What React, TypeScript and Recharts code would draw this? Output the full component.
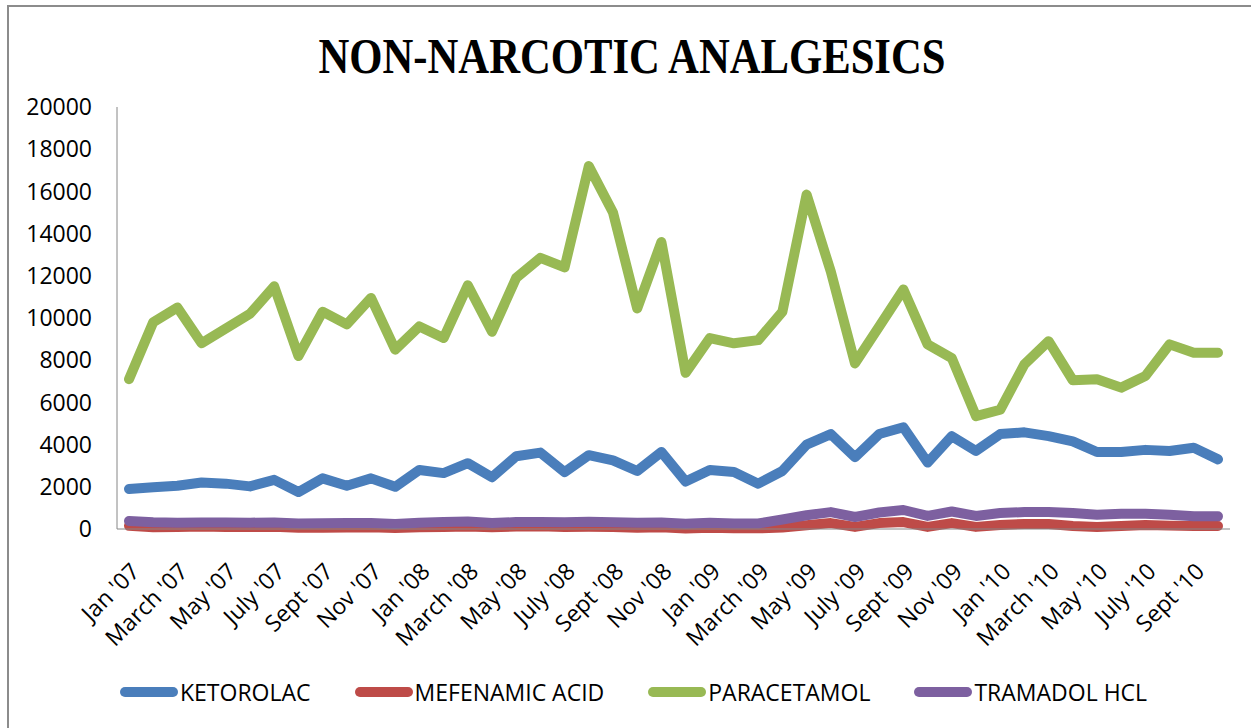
import React from "react";
import { LineChart, Line, XAxis, YAxis } from "recharts";

const months = [
  "Jan '07", "Feb '07", "March '07", "April '07", "May '07", "June '07", "July '07", "Aug '07", "Sept '07", "Oct '07", "Nov '07", "Dec '07",
  "Jan '08", "Feb '08", "March '08", "April '08", "May '08", "June '08", "July '08", "Aug '08", "Sept '08", "Oct '08", "Nov '08", "Dec '08",
  "Jan '09", "Feb '09", "March '09", "April '09", "May '09", "June '09", "July '09", "Aug '09", "Sept '09", "Oct '09", "Nov '09", "Dec '09",
  "Jan '10", "Feb '10", "March '10", "April '10", "May '10", "June '10", "July '10", "Aug '10", "Sept '10", "Oct '10",
];

const ketorolac = [
  1900, 1980, 2050, 2200, 2150, 2020, 2330, 1750, 2400, 2050, 2400, 2000,
  2800, 2650, 3120, 2450, 3450, 3620, 2700, 3500, 3250, 2750, 3650, 2250,
  2800, 2700, 2150, 2750, 4000, 4500, 3400, 4500, 4820, 3150, 4400, 3700,
  4500, 4580, 4400, 4150, 3650, 3650, 3750, 3700, 3850, 3300,
];

const mefenamicAcid = [
  150, 80, 100, 120, 100, 90, 110, 60, 60, 70, 80, 50,
  80, 100, 120, 80, 120, 130, 100, 110, 100, 60, 80, 20,
  60, 30, 30, 70, 180, 280, 100, 280, 330, 100, 280, 100,
  190, 240, 240, 140, 100, 140, 190, 160, 140, 140,
];

const paracetamol = [
  7100, 9800, 10500, 8800, 9500, 10200, 11500, 8200, 10300, 9700, 10950, 8500,
  9600, 9050, 11550, 9350, 11900, 12850, 12400, 17200, 15000, 10450, 13600, 7400,
  9050, 8800, 8950, 10300, 15850, 12200, 7850, 9600, 11350, 8750, 8100, 5350,
  5650, 7800, 8900, 7050, 7100, 6700, 7250, 8750, 8350, 8350,
];

const tramadolHcl = [
  380, 320, 300, 310, 310, 300, 310, 260, 270, 280, 280, 240,
  300, 330, 350, 280, 330, 330, 320, 340, 320, 300, 310, 250,
  300, 260, 260, 450, 650, 800, 570, 780, 900, 620, 830, 620,
  760, 800, 800, 760, 680, 720, 720, 680, 600, 600,
];

const yTicks = [0, 2000, 4000, 6000, 8000, 10000, 12000, 14000, 16000, 18000, 20000];

const series = [
  { key: "ketorolac", name: "KETOROLAC", color: "#4A7EBB", values: ketorolac },
  { key: "mefenamicAcid", name: "MEFENAMIC ACID", color: "#BE4B48", values: mefenamicAcid },
  { key: "paracetamol", name: "PARACETAMOL", color: "#98B954", values: paracetamol },
  { key: "tramadolHcl", name: "TRAMADOL HCL", color: "#7D60A0", values: tramadolHcl },
];

const data = months.map((month, i) => {
  const row: Record<string, string | number> = { month };
  series.forEach((s) => (row[s.key] = s.values[i]));
  return row;
});

const font = "'Open Sans', 'DejaVu Sans', sans-serif";

// rotated month labels, end of text sits just right of the tick
const MonthTick = (props: any) => {
  const { x, y, payload } = props;
  return (
    <g transform={`translate(${x + 12},${y + 44})`}>
      <text x={0} y={0} textAnchor="end" transform="rotate(-45)" fontSize={23} fontFamily={font} fill="#000">
        {payload.value}
      </text>
    </g>
  );
};

export default function App() {
  return (
    <div style={{ position: "fixed", left: 0, top: 0, width: 1251, height: 728, background: "#fff", overflow: "hidden" }}>
      <div
        style={{
          position: "absolute",
          left: 7,
          top: 5,
          width: 1280,
          height: 760,
          border: "2px solid #8c8c8c",
          boxSizing: "border-box",
        }}
      />
      <svg width={1251} height={100} style={{ position: "absolute", left: 0, top: 0 }}>
        <text
          x={632}
          y={73}
          textAnchor="middle"
          fontFamily="'Liberation Serif', 'DejaVu Serif', serif"
          fontWeight="bold"
          fontSize={50}
          textLength={627}
          lengthAdjust="spacingAndGlyphs"
          fill="#000"
        >
          NON-NARCOTIC ANALGESICS
        </text>
      </svg>
      <div style={{ position: "absolute", left: 0, top: 0 }}>
        <LineChart width={1251} height={728} data={data} margin={{ top: 107, right: 21, left: 0, bottom: 119 }}>
          <XAxis
            dataKey="month"
            interval={1}
            height={80}
            padding={{ left: 12, right: 12 }}
            tickLine={false}
            tickSize={0}
            tickMargin={0}
            axisLine={{ stroke: "#868686", strokeWidth: 1 }}
            tick={<MonthTick />}
          />
          <YAxis
            width={117}
            domain={[0, 20000]}
            ticks={yTicks}
            interval={0}
            tickLine={false}
            tickSize={0}
            tickMargin={25}
            axisLine={{ stroke: "#868686", strokeWidth: 1 }}
            tick={{ fontSize: 23, fontFamily: font, fill: "#000" }}
          />
          {series.map((s) => (
            <Line
              key={s.key}
              type="linear"
              dataKey={s.key}
              name={s.name}
              stroke={s.color}
              strokeWidth={10}
              strokeLinejoin="round"
              strokeLinecap="round"
              dot={false}
              activeDot={false}
              isAnimationActive={false}
            />
          ))}
        </LineChart>
      </div>
      <div
        style={{
          position: "absolute",
          left: 120,
          top: 678,
          height: 28,
          display: "flex",
          alignItems: "center",
          gap: 44,
          fontFamily: font,
          fontSize: 23,
          color: "#000",
        }}
      >
        {series.map((s) => (
          <div key={s.key} style={{ display: "flex", alignItems: "center" }}>
            <svg width={58} height={12}>
              <line x1={5} y1={6} x2={53} y2={6} stroke={s.color} strokeWidth={10} strokeLinecap="round" />
            </svg>
            <span style={{ marginLeft: 2, lineHeight: "28px" }}>{s.name}</span>
          </div>
        ))}
      </div>
    </div>
  );
}
